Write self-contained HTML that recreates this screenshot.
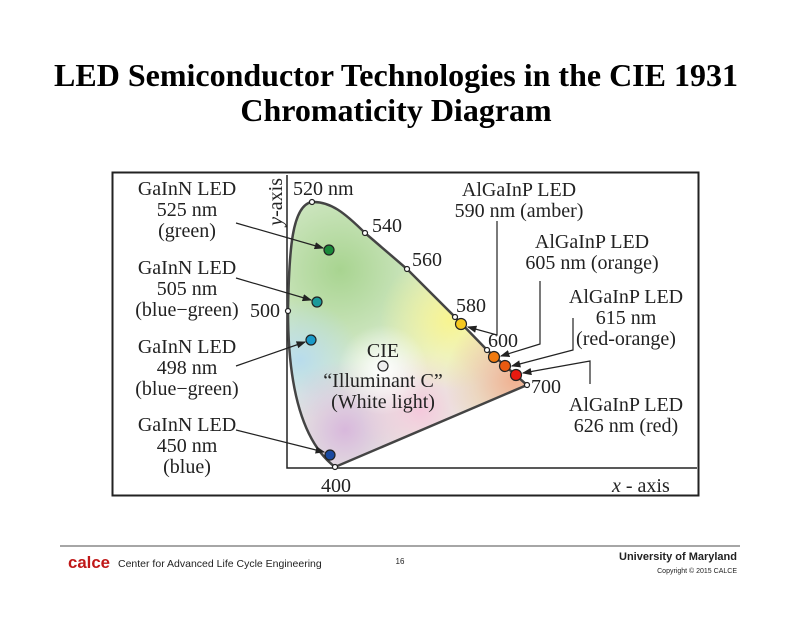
<!DOCTYPE html>
<html><head><meta charset="utf-8"><style>
body{margin:0;background:#fff;}
svg text{font-family:"Liberation Serif",serif;}
</style></head><body>
<svg width="792" height="612" viewBox="0 0 792 612" xmlns="http://www.w3.org/2000/svg">
<defs>
<clipPath id="cp"><path id="hs" d="M312,202 C292,205 289,250 288,311 C288,380 300,440 335,467 L527,385 L487,350 L455,317 L407,269 L365,233 C345,213 330,201 312,202 Z"/></clipPath>
<radialGradient id="gG" cx="340" cy="270" r="130" gradientUnits="userSpaceOnUse"><stop offset="0" stop-color="#a8d490"/><stop offset="1" stop-color="#a8d490" stop-opacity="0"/></radialGradient>
<radialGradient id="gY" cx="450" cy="320" r="70" gradientUnits="userSpaceOnUse"><stop offset="0" stop-color="#f8f490"/><stop offset="1" stop-color="#f8f490" stop-opacity="0"/></radialGradient>
<radialGradient id="gR" cx="515" cy="380" r="70" gradientUnits="userSpaceOnUse"><stop offset="0" stop-color="#f0b090"/><stop offset="1" stop-color="#f0b090" stop-opacity="0"/></radialGradient>
<radialGradient id="gB" cx="300" cy="360" r="60" gradientUnits="userSpaceOnUse"><stop offset="0" stop-color="#b8dcec"/><stop offset="1" stop-color="#b8dcec" stop-opacity="0"/></radialGradient>
<radialGradient id="gP" cx="345" cy="430" r="70" gradientUnits="userSpaceOnUse"><stop offset="0" stop-color="#d8b8dc"/><stop offset="1" stop-color="#d8b8dc" stop-opacity="0"/></radialGradient>
<radialGradient id="gK" cx="420" cy="410" r="60" gradientUnits="userSpaceOnUse"><stop offset="0" stop-color="#f4c8dc"/><stop offset="1" stop-color="#f4c8dc" stop-opacity="0"/></radialGradient>
<radialGradient id="gW" cx="383" cy="370" r="45" gradientUnits="userSpaceOnUse"><stop offset="0" stop-color="#fff"/><stop offset="1" stop-color="#fff" stop-opacity="0"/></radialGradient>
<marker id="ar" markerWidth="8" markerHeight="6" refX="7" refY="3" orient="auto"><path d="M0,0 L8,3 L0,6 Z" fill="#222"/></marker>
</defs>
<text x="396" y="86" text-anchor="middle" font-size="32" font-weight="bold">LED Semiconductor Technologies in the CIE 1931</text>
<text x="396" y="121" text-anchor="middle" font-size="32" font-weight="bold">Chromaticity Diagram</text>
<rect x="112.5" y="172.5" width="586" height="323" fill="#fff" stroke="#222" stroke-width="2"/>
<path d="M287,175 V468 H697" fill="none" stroke="#222" stroke-width="1.5"/>
<g clip-path="url(#cp)">
<rect x="280" y="195" width="260" height="280" fill="#e8f2e2"/>
<rect x="280" y="195" width="260" height="280" fill="url(#gG)"/>
<rect x="280" y="195" width="260" height="280" fill="url(#gB)"/>
<rect x="280" y="195" width="260" height="280" fill="url(#gP)"/>
<rect x="280" y="195" width="260" height="280" fill="url(#gK)"/>
<rect x="280" y="195" width="260" height="280" fill="url(#gY)"/>
<rect x="280" y="195" width="260" height="280" fill="url(#gR)"/>
<rect x="280" y="195" width="260" height="280" fill="url(#gW)"/>
</g>
<use href="#hs" fill="none" stroke="#444" stroke-width="2.5"/>
<g fill="#fff" stroke="#222" stroke-width="1.2">
<circle cx="312" cy="202" r="2.5"/><circle cx="365" cy="233" r="2.5"/><circle cx="407" cy="269" r="2.5"/><circle cx="455" cy="317" r="2.5"/><circle cx="487" cy="350" r="2.5"/><circle cx="527" cy="385" r="2.5"/><circle cx="335" cy="467" r="2.5"/><circle cx="288" cy="311" r="2.5"/>
</g>
<g stroke="#222" stroke-width="1.2">
<circle cx="329" cy="250" r="5" fill="#1a8a3a"/><circle cx="317" cy="302" r="5" fill="#1a9a9a"/><circle cx="311" cy="340" r="5" fill="#1a9ac8"/><circle cx="330" cy="455" r="5" fill="#1a4aa0"/>
<circle cx="461" cy="324" r="5.5" fill="#f5c820"/><circle cx="494" cy="357" r="5.5" fill="#f07a10"/><circle cx="505" cy="366" r="5.5" fill="#e85a10"/><circle cx="516" cy="375" r="5.5" fill="#e81a10"/>
<circle cx="383" cy="366" r="5" fill="#eee"/>
</g>
<g stroke="#222" stroke-width="1.2" fill="none" marker-end="url(#ar)">
<path d="M236,223 L323,248"/><path d="M236,278 L311,300"/><path d="M236,366 L305,342"/><path d="M236,430 L324,452"/>
<path d="M497,221 V335 L468,327"/>
<path d="M540,281 V344 L501,356"/>
<path d="M573,318 V350 L512,366"/>
<path d="M590,384 V361 L523,373"/>
</g>
<g font-size="20" text-anchor="middle" fill="#222">
<text x="187" y="195">GaInN  LED</text><text x="187" y="216">525 nm</text><text x="187" y="237">(green)</text>
<text x="187" y="274">GaInN  LED</text><text x="187" y="295">505 nm</text><text x="187" y="316">(blue−green)</text>
<text x="187" y="353">GaInN  LED</text><text x="187" y="374">498 nm</text><text x="187" y="395">(blue−green)</text>
<text x="187" y="431">GaInN  LED</text><text x="187" y="452">450 nm</text><text x="187" y="473">(blue)</text>
<text x="519" y="196">AlGaInP LED</text><text x="519" y="217">590 nm (amber)</text>
<text x="592" y="248">AlGaInP LED</text><text x="592" y="269">605 nm (orange)</text>
<text x="626" y="303">AlGaInP LED</text><text x="626" y="324">615 nm</text><text x="626" y="345">(red-orange)</text>
<text x="626" y="411">AlGaInP LED</text><text x="626" y="432">626 nm (red)</text>
<text x="383" y="357">CIE</text>
<text x="383" y="387">“Illuminant C”</text><text x="383" y="408">(White light)</text>
<text x="336" y="492">400</text>
</g>
<g font-size="20" fill="#222">
<text x="293" y="195">520 nm</text><text x="372" y="232">540</text><text x="412" y="266">560</text><text x="456" y="312">580</text><text x="488" y="347">600</text><text x="531" y="393">700</text>
<text x="250" y="317">500</text>
<text x="612" y="492"><tspan font-style="italic">x</tspan> - axis</text>
<text transform="translate(282,178) rotate(-90)" text-anchor="end"><tspan font-style="italic">y</tspan>-axis</text>
</g>
<line x1="60" y1="546" x2="740" y2="546" stroke="#888" stroke-width="1.5"/>
<text x="68" y="568" font-size="17" font-weight="bold" fill="#c01818" style="font-family:'Liberation Sans',sans-serif" textLength="42" lengthAdjust="spacingAndGlyphs">calce</text>
<text x="118" y="567" font-size="10.5" style="font-family:'Liberation Sans',sans-serif" fill="#222">Center for Advanced Life Cycle Engineering</text>
<text x="400" y="564" font-size="8" style="font-family:'Liberation Sans',sans-serif" fill="#222" text-anchor="middle">16</text>
<text x="737" y="560" font-size="11" font-weight="bold" style="font-family:'Liberation Sans',sans-serif" fill="#222" text-anchor="end">University of Maryland</text>
<text x="737" y="573" font-size="7" style="font-family:'Liberation Sans',sans-serif" fill="#222" text-anchor="end">Copyright © 2015 CALCE</text>
</svg>
</body></html>
